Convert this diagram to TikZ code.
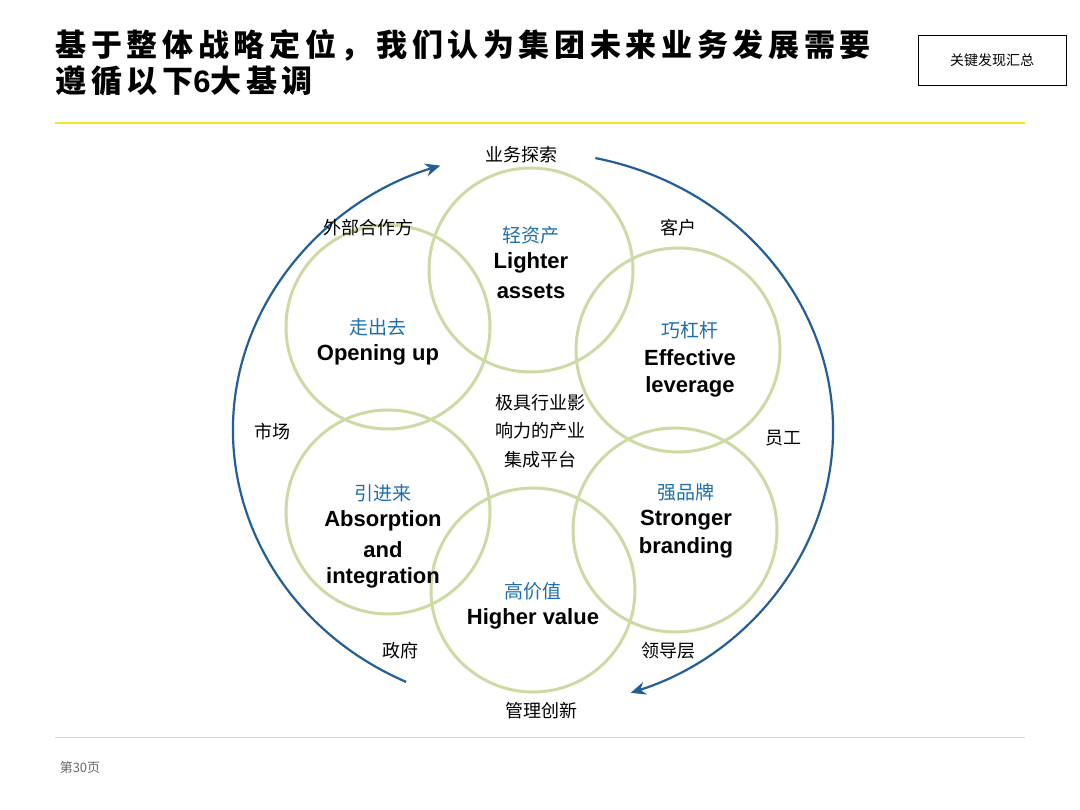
\documentclass[tikz,border=0pt]{standalone}
\usepackage{fontspec}
\setmainfont{Liberation Sans}
\newfontfamily\cjk{Noto Sans CJK SC}
\newfontfamily\cjkt[LetterSpace=15]{Noto Sans CJK SC}
\usetikzlibrary{arrows.meta}
\definecolor{ring}{RGB}{205,218,165}
\definecolor{lblue}{RGB}{30,110,170}
\definecolor{arc}{RGB}{35,95,150}
\definecolor{ylw}{RGB}{245,225,40}
\begin{document}
\begin{tikzpicture}[x=1pt,y=-1pt,
  circ/.style={draw=ring,line width=3pt},
  cn/.style={font=\cjk\fontsize{19}{19}\selectfont,text=lblue},
  en/.style={font=\bfseries\fontsize{22}{22}\selectfont},
  outl/.style={font=\cjk\fontsize{18}{18}\selectfont},
  arr/.style={draw=arc,line width=2.2pt,-{Stealth[length=15pt,width=13pt]}}]
\useasboundingbox (0,0) rectangle (1080,810);
\node[anchor=west,align=left,font=\cjkt\bfseries\fontsize{31}{36}\selectfont] (title) at (52,63) {基于整体战略定位，我们认为集团未来业务发展需要\\遵循以下{\fontspec{Liberation Sans}\bfseries 6}大基调};
\node[draw,thick,minimum width=148pt,minimum height=50pt,font=\cjk\fontsize{14}{14}\selectfont] (box) at (992,60) {关键发现汇总};
\draw[ylw,line width=1.5pt] (55,123) -- (1025,123);
\draw[black!15] (55,737) -- (1025,737);
\node[font=\cjk\fontsize{13}{13}\selectfont,text=black!60] (pg) at (80,768) {第30页};
\draw[circ] (531,270) circle (102);
\draw[circ] (388,327) circle (102);
\draw[circ] (678,350) circle (102);
\draw[circ] (388,512) circle (102);
\draw[circ] (675,530) circle (102);
\draw[circ] (533,590) circle (102);
\draw[arr] (533,430) ++(245:300 and -278) arc[start angle=245,end angle=108,x radius=300,y radius=-278];
\draw[arr] (533,430) ++(78:300 and -278) arc[start angle=78,end angle=-71,x radius=300,y radius=-278];
\node[cn] at (531,235) {轻资产};
\node[en] at (531,263) {Lighter};
\node[en] at (531,291) {assets};
\node[cn] at (378,327) {走出去};
\node[en] at (378,355) {Opening up};
\node[cn] at (690,330) {巧杠杆};
\node[en] at (690,358) {Effective};
\node[en] at (690,387) {leverage};
\node[align=center,font=\cjk\fontsize{18}{28.5}\selectfont] at (540,431) {极具行业影\\响力的产业\\集成平台};
\node[cn] at (383,493) {引进来};
\node[en] at (383,521) {Absorption};
\node[en] at (383,550) {and};
\node[en] at (383,578) {integration};
\node[cn] at (686,492) {强品牌};
\node[en] at (686,520) {Stronger};
\node[en] at (686,548) {branding};
\node[cn] at (533,591) {高价值};
\node[en] at (533,619) {Higher value};
\node[outl] at (521,155) {业务探索};
\node[outl] at (368,228) {外部合作方};
\node[outl] at (678,228) {客户};
\node[outl] at (272,432) {市场};
\node[outl] at (783,438) {员工};
\node[outl] at (400,651) {政府};
\node[outl] at (668,651) {领导层};
\node[outl] at (541,711) {管理创新};
\end{tikzpicture}
\end{document}
